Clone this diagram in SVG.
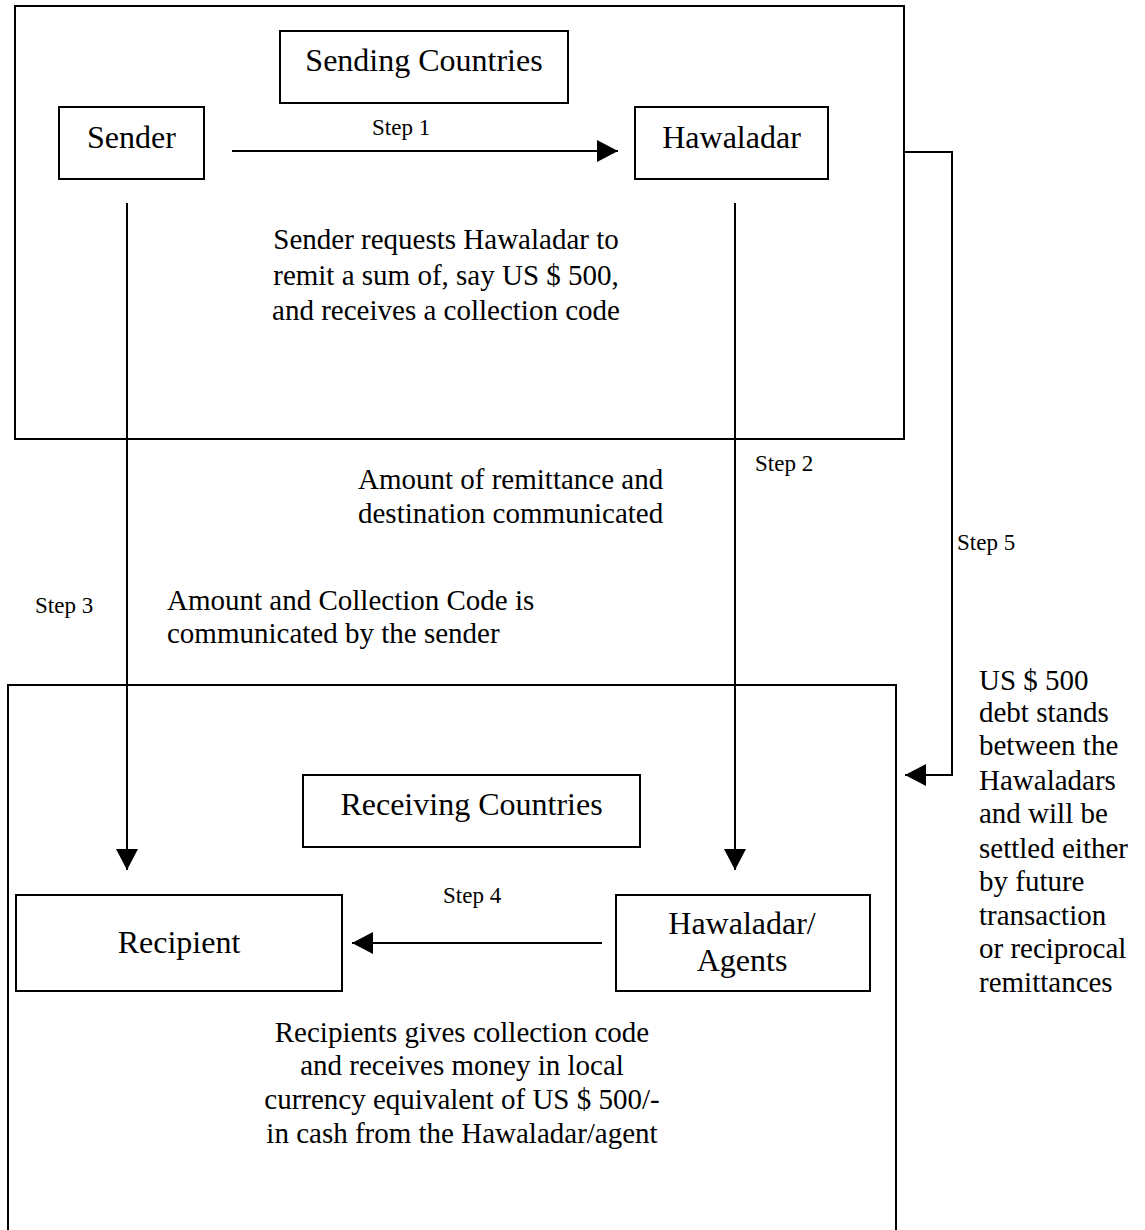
<svg xmlns="http://www.w3.org/2000/svg" width="1145" height="1230" viewBox="0 0 1145 1230">
<style>
  .box { fill: #fff; stroke: #000; stroke-width: 2; }
  .frame { fill: none; stroke: #000; stroke-width: 2; }
  .conn { fill: none; stroke: #000; stroke-width: 2; }
  text { font-family: "Liberation Serif", "Times New Roman", serif; fill: #000; }
  .lbl { font-size: 32px; text-anchor: middle; }
  .body { font-size: 29px; }
  .mid { text-anchor: middle; }
  .step { font-size: 23px; }
</style>
<defs>
  <marker id="ah" viewBox="0 0 21 22" refX="21" refY="11" markerWidth="21" markerHeight="22" markerUnits="userSpaceOnUse" orient="auto">
    <path d="M0,0 L21,11 L0,22 z" fill="#000"/>
  </marker>
</defs>
<rect width="1145" height="1230" fill="#fff"/>

<g id="sending-frame">
  <rect class="frame" x="15" y="6" width="889" height="433"/>
</g>
<g id="receiving-frame">
  <path class="frame" d="M8,1240 V685 H896 V1240"/>
</g>

<g id="connectors">
  <line class="conn" x1="232" y1="151" x2="618" y2="151" marker-end="url(#ah)"/>
  <line class="conn" x1="735" y1="203" x2="735" y2="870" marker-end="url(#ah)"/>
  <line class="conn" x1="127" y1="203" x2="127" y2="870" marker-end="url(#ah)"/>
  <line class="conn" x1="602" y1="943" x2="352" y2="943" marker-end="url(#ah)"/>
  <path class="conn" d="M904,152 H952 V775 H905" marker-end="url(#ah)"/>
</g>

<g id="sending-countries">
  <rect class="box" x="280" y="31" width="288" height="72"/>
  <text class="lbl" x="424" y="71">Sending Countries</text>
</g>
<g id="sender">
  <rect class="box" x="59" y="107" width="145" height="72"/>
  <text class="lbl" x="131.5" y="148">Sender</text>
</g>
<g id="hawaladar">
  <rect class="box" x="635" y="107" width="193" height="72"/>
  <text class="lbl" x="731.5" y="148">Hawaladar</text>
</g>
<g id="receiving-countries">
  <rect class="box" x="303" y="775" width="337" height="72"/>
  <text class="lbl" x="471.5" y="815">Receiving Countries</text>
</g>
<g id="recipient">
  <rect class="box" x="16" y="895" width="326" height="96"/>
  <text class="lbl" x="179" y="953">Recipient</text>
</g>
<g id="hawaladar-agents">
  <rect class="box" x="616" y="895" width="254" height="96"/>
  <text class="lbl" x="742" y="934">Hawaladar/</text>
  <text class="lbl" x="742" y="971">Agents</text>
</g>

<g id="labels">
  <text class="step" x="372" y="135">Step 1</text>
  <text class="step" x="755" y="471">Step 2</text>
  <text class="step" x="35" y="613">Step 3</text>
  <text class="step" x="443" y="903">Step 4</text>
  <text class="step" x="957" y="550">Step 5</text>

  <text class="body mid" x="446" y="249">Sender requests Hawaladar to</text>
  <text class="body mid" x="446" y="285">remit a sum of, say US $ 500,</text>
  <text class="body mid" x="446" y="320">and receives a collection code</text>

  <text class="body" x="358" y="489">Amount of remittance and</text>
  <text class="body" x="358" y="523">destination communicated</text>

  <text class="body" x="167" y="610">Amount and Collection Code is</text>
  <text class="body" x="167" y="643">communicated by the sender</text>

  <text class="body" x="979" y="690">US $ 500</text>
  <text class="body" x="979" y="722">debt stands</text>
  <text class="body" x="979" y="755">between the</text>
  <text class="body" x="979" y="790">Hawaladars</text>
  <text class="body" x="979" y="823">and will be</text>
  <text class="body" x="979" y="858">settled either</text>
  <text class="body" x="979" y="891">by future</text>
  <text class="body" x="979" y="925">transaction</text>
  <text class="body" x="979" y="958">or reciprocal</text>
  <text class="body" x="979" y="992">remittances</text>

  <text class="body mid" x="462" y="1042">Recipients gives collection code</text>
  <text class="body mid" x="462" y="1075">and receives money in local</text>
  <text class="body mid" x="462" y="1109">currency equivalent of US $ 500/-</text>
  <text class="body mid" x="462" y="1143">in cash from the Hawaladar/agent</text>
</g>
</svg>
